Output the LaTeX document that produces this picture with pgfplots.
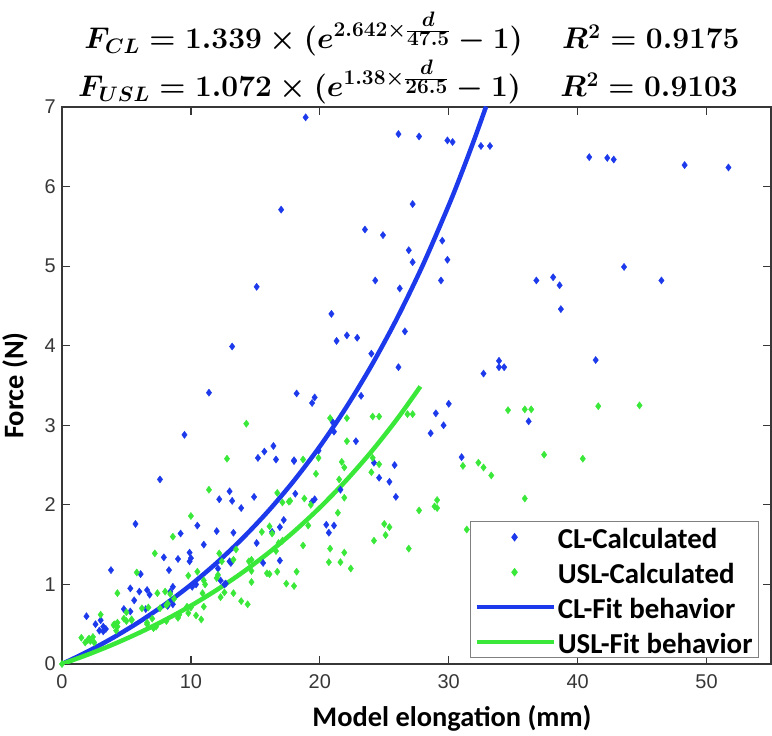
\RequirePackage{fix-cm}
\documentclass[border=0pt]{standalone}
\usepackage{amsmath}
\usepackage{pgfplots}
\pgfplotsset{compat=1.18}
\usepackage{fontspec}
\setmainfont{Liberation Sans}
\newfontfamily\calibri{Carlito}
\definecolor{clblue}{RGB}{28,58,235}
\definecolor{uslgreen}{RGB}{58,232,58}
\definecolor{axgray}{RGB}{55,55,55}
\newcommand{\sfr}[2]{\genfrac{}{}{}{2}{\scriptstyle #1\rule[-3bp]{0pt}{3bp}}{\scriptstyle #2}}

\begin{document}
\begin{tikzpicture}
\begin{axis}[
    at={(0,0)}, anchor=south west,
    scale only axis,
    width=709bp, height=557bp,
    xmin=0, xmax=55, ymin=0, ymax=7,
    xtick={0,10,...,50}, ytick={0,1,...,7},
    tick pos=both,
    tick align=inside,
    major tick length=8bp,
    axis line style={axgray, line width=1.2bp},
    every tick/.style={axgray, line width=1.2bp},
    /pgf/number format/assume math mode=true,
    ticklabel style={font=\fontsize{20}{24}\selectfont, text=axgray},
    xticklabel style={anchor=north, inner sep=0pt, yshift=-10bp},
    yticklabel style={anchor=east, inner sep=0pt, xshift=-6bp},
    xlabel={Model elongation (mm)},
    ylabel={Force (N)},
    label style={font=\calibri\bfseries\fontsize{28.5}{32}\selectfont},
    xlabel style={at={(axis description cs:0.55,0)}, anchor=center, yshift=-54bp},
    ylabel style={at={(axis description cs:-0.0663,0.5)}, anchor=center},
    legend style={at={(0.983,0.0104)}, anchor=south east,
        draw=gray, fill=white, line width=1bp,
        font=\calibri\bfseries\fontsize{29}{32}\selectfont,
        inner xsep=4bp, inner ysep=1bp, row sep=6bp,
        nodes={inner sep=2bp, text height=24bp, text depth=1bp}},
    legend cell align=left,
    legend image code/.code={\draw[mark repeat=2, mark phase=2, #1]
        plot coordinates {(0bp,0bp) (38bp,0bp) (77bp,0bp)};},
]
\addplot[only marks, mark=diamond*, mark size=3.6bp, color=clblue] coordinates {
(18.9,6.87)(26.1,6.66)(27.7,6.63)(29.9,6.58)(30.3,6.56)(32.5,6.51)(33.2,6.51)
(27.2,5.78)(23.5,5.46)(24.9,5.39)(29.5,5.32)(26.9,5.20)(27.2,5.05)(29.9,5.08)
(24.3,4.82)(29.4,4.82)(26.2,4.72)(20.9,4.40)(21.3,4.06)(22.1,4.13)(22.9,4.10)
(26.6,4.18)(24.0,3.90)(26.1,3.73)(32.7,3.65)(33.9,3.81)(33.9,3.73)(34.3,3.73)
(18.2,3.40)(19.6,3.35)(19.4,3.28)(23.2,3.37)(40.9,6.37)(42.3,6.36)(42.8,6.34)
(48.3,6.27)(51.7,6.24)(36.8,4.82)(38.1,4.86)(38.6,4.76)(38.7,4.46)(43.6,4.99)
(46.5,4.82)(41.4,3.82)(17.0,5.71)(15.1,4.74)(13.2,3.99)(11.4,3.41)(36.2,3.05)
(30.0,3.27)(29.0,3.15)(29.6,3.00)(28.6,2.90)(22.8,2.80)(18.0,2.56)(31.0,2.60)
(24.2,2.53)(25.8,2.50)(24.6,2.34)(25.4,2.29)(25.9,2.10)(18.1,2.14)(19.6,2.07)
(19.4,2.04)(20.5,1.75)(21.1,1.74)(20.7,1.65)(21.6,2.19)(21.0,3.04)(21.1,2.92)
(19.9,2.68)(9.5,2.88)(7.6,2.32)(15.2,2.59)(15.7,2.67)(16.4,2.74)(16.6,2.57)
(18.0,2.55)(12.2,2.07)(13.0,2.17)(13.2,2.05)(13.9,1.96)(14.9,2.10)(5.7,1.76)
(6.1,1.13)(3.8,1.18)(10.5,1.74)(9.2,1.64)(12.0,1.67)(11.0,1.50)(13.3,1.65)
(16.3,1.66)(17.2,1.81)(15.1,1.52)(15.6,1.27)(16.9,1.30)(7.9,1.34)(9.0,1.32)
(9.9,1.40)(9.9,1.29)(10.0,1.33)(8.3,1.18)(12.1,1.20)(13.0,1.29)(13.1,1.27)
(12.3,1.05)(12.6,1.00)(16.9,1.72)(5.3,0.95)(6.0,0.91)(6.6,0.93)(6.8,0.87)
(5.6,0.80)(4.8,0.69)(5.3,0.66)(6.5,0.69)(8.6,0.75)(8.2,0.73)(8.6,0.97)
(8.4,0.91)(1.9,0.60)(2.6,0.50)(3.0,0.55)(3.2,0.47)(2.9,0.42)(3.4,0.44)
(3.2,0.41)(10.4,1.00)(10.1,0.97)(12.7,1.01)
};
\addlegendentry{CL-Calculated}
\addplot[only marks, mark=diamond*, mark size=3.6bp, color=uslgreen] coordinates {
(35.9,3.20)(36.4,3.20)(41.6,3.24)(44.8,3.25)(37.4,2.63)(40.4,2.58)(35.9,2.08)
(20.8,3.09)(22.1,3.09)(24.1,3.11)(24.6,3.11)(26.8,3.14)(27.2,3.14)(34.6,3.19)
(22.1,2.80)(19.9,2.59)(18.7,2.57)(21.7,2.54)(21.9,2.47)(24.1,2.59)(24.6,2.51)
(24.0,2.41)(19.7,2.39)(21.5,2.32)(31.1,2.49)(32.3,2.53)(32.7,2.47)(33.3,2.37)
(18.8,2.08)(21.9,2.09)(19.3,2.00)(17.7,2.05)(21.4,1.90)(27.7,1.93)(28.9,1.98)
(29.1,1.96)(29.1,2.06)(19.1,1.74)(25.0,1.76)(25.4,1.72)(25.1,1.62)(24.2,1.55)
(26.9,1.45)(31.4,1.69)(18.7,1.49)(20.8,1.45)(20.7,1.28)(21.6,1.28)(21.9,1.40)
(22.4,1.20)(18.2,1.16)(18.0,0.98)(14.3,3.02)(12.8,2.58)(11.4,2.19)(10.0,1.86)
(8.6,1.60)(7.2,1.39)(5.8,1.15)(4.3,0.89)(3.0,0.62)(1.5,0.33)(1.8,0.27)
(2.0,0.30)(2.1,0.32)(7.4,0.89)(6.2,0.70)(5.4,0.56)(5.0,0.54)(4.3,0.52)
(4.0,0.49)(8.4,0.88)(9.8,1.11)(10.5,1.16)(11.0,1.05)(12.0,1.08)(12.2,1.39)
(13.3,1.31)(13.3,0.89)(13.9,0.79)(14.4,0.75)(9.0,0.58)(9.8,0.64)(10.4,0.61)
(10.8,0.56)(8.1,0.54)(7.0,0.57)(6.6,0.50)(15.5,1.66)(16.1,1.73)(16.7,2.15)
(17.1,2.03)(17.6,2.04)(16.8,1.52)(16.1,1.13)(16.7,1.16)(17.4,1.01)(14.7,1.17)
(14.7,1.03)(14.7,1.31)(8.0,0.91)(8.7,0.82)(8.2,0.76)(6.7,0.71)(16.3,1.64)
(17.1,1.55)(16.6,1.42)(14.5,1.29)(15.9,1.14)(12.3,0.84)(10.9,0.89)(11.0,0.72)
(10.0,0.71)(12.4,1.29)(13.5,1.44)(12.1,1.12)(11.1,1.00)(12.6,0.90)(4.3,0.47)
(4.1,0.50)(4.2,0.42)(5.0,0.65)(5.4,0.55)(4.8,0.57)(8.1,0.74)(7.6,0.70)
(7.1,0.45)(7.3,0.47)(6.6,0.52)(2.2,0.29)(2.5,0.27)(2.4,0.34)(9.7,0.72)
(9.1,0.62)(0,0)
};
\addlegendentry{USL-Calculated}
% fitted curves, values tabulated from the fit equations
\addplot[clblue, line width=4.5bp, smooth] coordinates {
(0,0)(2,0.1575)(4,0.3337)(6,0.5305)(8,0.7504)(10,0.9963)(12,1.2712)
(14,1.5783)(16,1.9215)(18,2.3051)(20,2.7338)(22,3.2129)(24,3.7486)
(26,4.3473)(28,5.0163)(30,5.7641)(31,6.1705)(32,6.5999)(32.9,7.007)
};
\addlegendentry{CL-Fit behavior}
\addplot[uslgreen, line width=4.5bp, smooth] coordinates {
(0,0)(2,0.1177)(4,0.2483)(6,0.3932)(8,0.5540)(10,0.7325)(12,0.9306)
(14,1.1504)(16,1.3944)(18,1.6651)(20,1.9655)(22,2.2989)(24,2.6689)
(26,3.0797)(27.8,3.4875)
};
\addlegendentry{USL-Fit behavior}
\end{axis}
\node[anchor=base, text depth=0bp, font=\fontsize{30}{36}\selectfont\boldmath] at (350bp,615bp)
  {$F_{CL}=1.339\times(e^{2.642\times\sfr{d}{47.5}}-1)\quad\; R^2=0.9175$};
\node[anchor=base, font=\fontsize{30}{36}\selectfont\boldmath] at (346bp,567bp)
  {$F_{USL}=1.072\times(e^{1.38\times\sfr{d}{26.5}}-1)\quad\; R^2=0.9103$};
\pgfresetboundingbox
\path[use as bounding box] (-62bp,-72bp) rectangle (710bp,664bp);
\end{tikzpicture}
\end{document}
